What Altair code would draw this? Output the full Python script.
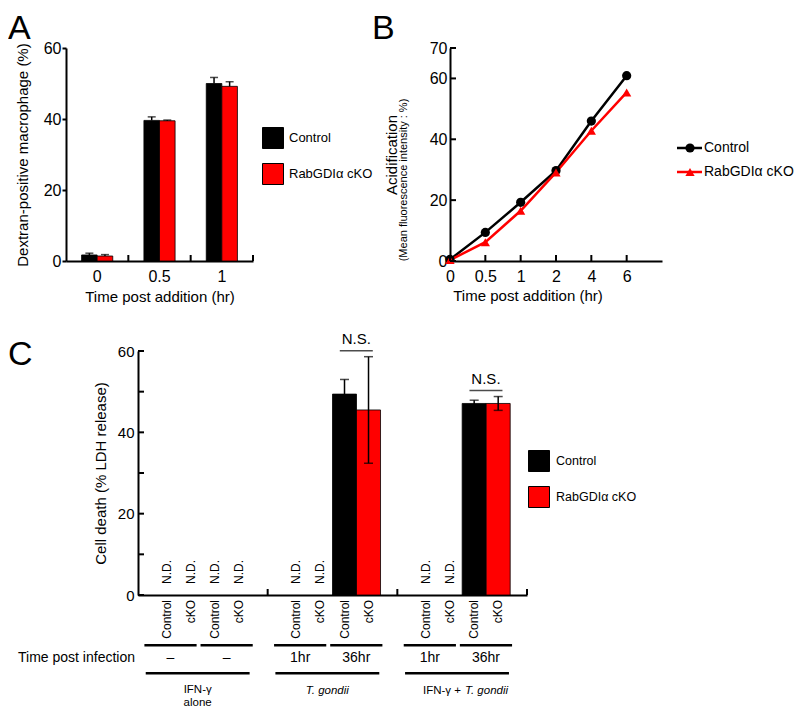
import altair as alt
import pandas as pd

FONT = "Liberation Sans"

# ---------------- shared categories ----------------
series = ["Control", "RabGDIα cKO"]
short_names = ["Control", "cKO"]
colors = ["#000000", "#ff0000"]
shapes = ["circle", "triangle-up"]

# ---------------- panel A ----------------
a_times = ["0", "0.5", "1"]
a_ctrl = [1.7, 39.6, 50.0]
a_ctrl_err = [0.5, 1.0, 1.7]
a_cko = [1.4, 39.5, 49.2]
a_cko_err = [0.4, 0.2, 1.3]
a_yticks = [0, 20, 40, 60]

# ---------------- panel B ----------------
b_times = ["0", "0.5", "1", "2", "4", "6"]
b_ctrl = [0.5, 9.4, 19.3, 29.7, 46.0, 60.9]
b_cko = [0.3, 6.2, 16.5, 29.1, 42.8, 55.4]
b_yticks = [0, 20, 40, 60, 70]

# ---------------- panel C ----------------
c_groups = ["IFN-γ alone", "T. gondii", "IFN-γ + T. gondii"]
c_group_plain = ["IFN-γ\nalone", "", "IFN-γ +"]
c_group_italic = ["", "T. gondii", "T. gondii"]
c_pairs = ["first", "second"]
c_times = ["–", "–", "1hr", "36hr", "1hr", "36hr"]
c_ctrl = [None, None, None, 49.4, None, 47.1]
c_ctrl_err = [None, None, None, 3.6, None, 0.8]
c_cko = [None, None, None, 45.5, None, 47.1]
c_cko_err = [None, None, None, 13.1, None, 1.7]
c_sig = ["", "", "", "N.S.", "", "N.S."]
c_yticks = [0, 10, 20, 30, 40, 50, 60]
c_ylabels = [0, 20, 40, 60]

one = pd.DataFrame({"k": [0]})


def txt(s, **kw):
    props = dict(font=FONT, color="black")
    props.update(kw)
    return alt.Chart(one).mark_text(text=s, **props)


axis_common = dict(domainColor="black", domainWidth=2, labelColor="black", titleColor="black",
                   labelFont=FONT, titleFont=FONT, grid=False, titleFontWeight="normal",
                   tickColor="black")

# ================= Panel A =================
AW, AH = 187, 213
rowsA = []
for i, t in enumerate(a_times):
    for g, (vals, errs) in enumerate([(a_ctrl, a_ctrl_err), (a_cko, a_cko_err)]):
        rowsA.append({"t": t, "geno": series[g], "mean": vals[i], "hi": vals[i] + errs[i]})
dfA = pd.DataFrame(rowsA)

a_xscale = alt.Scale(type="band", domain=a_times, paddingInner=0, paddingOuter=0)
a_xaxis = alt.Axis(title="Time post addition (hr)", labelAngle=0, ticks=False, labelFontSize=16,
                   labelPadding=7, titleFontSize=15, titlePadding=5, **axis_common)
a_x = alt.X("t:N", sort=a_times, scale=a_xscale, axis=a_xaxis)
a_xo = alt.XOffset("geno:N", sort=series,
                   scale=alt.Scale(type="band", domain=series, paddingInner=0, paddingOuter=1))
a_yscale = alt.Scale(domain=[0, 60], nice=False)
a_yaxis = alt.Axis(values=a_yticks, title="Dextran-positive macrophage (%)", tickSize=4, tickWidth=2,
                   labelFontSize=16, labelPadding=1, titleFontSize=15, titlePadding=13, **axis_common)

a_bars = alt.Chart(dfA).mark_bar(stroke="black", strokeWidth=0.8).encode(
    x=a_x, xOffset=a_xo,
    y=alt.Y("mean:Q", scale=a_yscale, axis=a_yaxis),
    fill=alt.Fill("geno:N", scale=alt.Scale(domain=series, range=colors),
                  legend=alt.Legend(title=None, orient="none", legendX=196, legendY=79, padding=0,
                                    symbolType="square", symbolSize=441, symbolStrokeColor="black",
                                    symbolStrokeWidth=1, symbolOpacity=1, labelFontSize=13,
                                    labelFont=FONT, labelColor="black", rowPadding=10, labelOffset=5)),
)
a_err = alt.Chart(dfA).mark_rule(color="black", strokeWidth=1.5).encode(
    x=a_x, xOffset=a_xo, y=alt.Y("mean:Q", scale=a_yscale, axis=a_yaxis), y2="hi:Q")
a_cap = alt.Chart(dfA).mark_tick(color="black", thickness=1.5, size=8, orient="horizontal").encode(
    x=a_x, xOffset=a_xo, y=alt.Y("hi:Q", scale=a_yscale, axis=a_yaxis))
dfAt = pd.DataFrame({"t": a_times})
a_xt = alt.Chart(dfAt).mark_rule(color="black", strokeWidth=2).encode(
    x=alt.X("t:N", sort=a_times, scale=a_xscale, axis=a_xaxis, bandPosition=1),
    y=alt.value(AH), y2=alt.value(AH - 6))
a_letter = txt("A", fontSize=34, align="left", baseline="top").encode(x=alt.value(-58), y=alt.value(-36))

panelA = alt.layer(a_bars, a_err, a_cap, a_xt, a_letter).properties(width=AW, height=AH)

# ================= Panel B =================
BW, BH = 212, 213
rowsB = []
for g, vals in enumerate([b_ctrl, b_cko]):
    for i, t in enumerate(b_times):
        rowsB.append({"idx": i, "t": t, "val": vals[i], "geno": series[g]})
dfB = pd.DataFrame(rowsB)

b_labels = "[" + ",".join("'%s'" % t for t in b_times) + "][datum.value]"
b_xscale = alt.Scale(domain=[0, len(b_times)], nice=False, zero=True)
b_xaxis = alt.Axis(values=list(range(len(b_times))), labelExpr=b_labels, ticks=False, title=None,
                   labelFontSize=16, labelPadding=7, labelFlush=False, labelOverlap=False, **axis_common)
b_x = alt.X("idx:Q", scale=b_xscale, axis=b_xaxis)
b_yscale = alt.Scale(domain=[0, 70], nice=False)
b_yaxis = alt.Axis(values=b_yticks, ticks=False, title=None, labelFontSize=16, labelPadding=3,
                   **axis_common)
b_y = alt.Y("val:Q", scale=b_yscale, axis=b_yaxis)
b_color = alt.Color("geno:N", scale=alt.Scale(domain=series, range=colors), legend=None)
b_shape = alt.Shape("geno:N", scale=alt.Scale(domain=series, range=shapes), legend=None)

b_lines = alt.Chart(dfB).mark_line(strokeWidth=2.5).encode(x=b_x, y=b_y, color=b_color)
b_pts = alt.Chart(dfB).mark_point(filled=True, size=85, opacity=1).encode(
    x=b_x, y=b_y, color=b_color, shape=b_shape)
dfBy = pd.DataFrame({"v": b_yticks})
b_yt = alt.Chart(dfBy).mark_rule(color="black", strokeWidth=2).encode(
    x=alt.value(0), x2=alt.value(6), y=alt.Y("v:Q", scale=b_yscale, axis=b_yaxis))
dfBx = pd.DataFrame({"idx": list(range(len(b_times)))})
b_xt = alt.Chart(dfBx).mark_rule(color="black", strokeWidth=2).encode(
    x=b_x, y=alt.value(BH), y2=alt.value(BH - 6))

b_texts = [
    txt("B", fontSize=34, align="left", baseline="top").encode(x=alt.value(-78), y=alt.value(-36)),
    txt("Acidification", fontSize=15, angle=270, align="center", baseline="middle").encode(
        x=alt.value(-58), y=alt.value(107)),
    txt("(Mean fluorescence intensity : %)", fontSize=11, angle=270, align="center",
        baseline="middle").encode(x=alt.value(-46), y=alt.value(132)),
    txt("Time post addition (hr)", fontSize=15, align="center", baseline="middle").encode(
        x=alt.value(78), y=alt.value(BH + 35)),
]
b_leg = []
for i, name in enumerate(series):
    yy = 100 + 24 * i
    b_leg.append(alt.Chart(one).mark_rule(color=colors[i], strokeWidth=2.5).encode(
        x=alt.value(227), x2=alt.value(252), y=alt.value(yy)))
    b_leg.append(alt.Chart(one).mark_point(filled=True, size=85, opacity=1, color=colors[i],
                                           shape=shapes[i]).encode(x=alt.value(240), y=alt.value(yy)))
    b_leg.append(txt(name, fontSize=14, align="left", baseline="middle").encode(
        x=alt.value(254), y=alt.value(yy)))

panelB = alt.layer(b_lines, b_pts, b_yt, b_xt, *b_texts, *b_leg).properties(width=BW, height=BH)

# ================= Panel C =================
CW, CH = 389, 244
slots = ["%s|%s" % (p, s) for p in c_pairs for s in short_names]
rowsC, rowsP = [], []
for k, t in enumerate(c_times):
    grp = c_groups[k // 2]
    pair = c_pairs[k % 2]
    tops = []
    for g, (vals, errs) in enumerate([(c_ctrl, c_ctrl_err), (c_cko, c_cko_err)]):
        v, e = vals[k], errs[k]
        lo = v - e if v is not None else None
        hi = v + e if v is not None else None
        if hi is not None:
            tops.append(hi)
        rowsC.append({"group": grp, "pair": pair, "slot": "%s|%s" % (pair, short_names[g]),
                      "geno": series[g], "short": short_names[g], "mean": v, "lo": lo, "hi": hi})
    rowsP.append({"group": grp, "pair": pair, "time": t, "sig": c_sig[k],
                  "top": max(tops) if tops else None})
dfC = pd.DataFrame(rowsC)
dfP = pd.DataFrame(rowsP)
dfG = pd.DataFrame({"group": c_groups, "plain": c_group_plain, "italic": c_group_italic,
                    "whole": ["all"] * len(c_groups)})
dfCy = pd.DataFrame({"v": c_yticks})

c_xscale = alt.Scale(type="band", domain=c_groups, paddingInner=0, paddingOuter=0)
c_xaxis = alt.Axis(labels=False, ticks=False, title=None, **axis_common)
c_x = alt.X("group:N", sort=c_groups, scale=c_xscale, axis=c_xaxis)
c_slot = alt.XOffset("slot:N", sort=slots,
                     scale=alt.Scale(type="band", domain=slots, paddingInner=0, paddingOuter=0.7))
c_pair = alt.XOffset("pair:N", sort=c_pairs,
                     scale=alt.Scale(type="band", domain=c_pairs, paddingInner=0.07,
                                     paddingOuter=0.19, align=0.3))
c_whole = alt.XOffset("whole:N",
                      scale=alt.Scale(type="band", domain=["all"], paddingInner=0,
                                      paddingOuter=0.124, align=0.3))
c_yscale = alt.Scale(domain=[0, 60], nice=False)
c_label_expr = "indexof([" + ",".join(str(v) for v in c_ylabels) + "], datum.value) >= 0 ? datum.label : ''"
c_yaxis = alt.Axis(values=c_yticks, labelExpr=c_label_expr, ticks=False,
                   title="Cell death (% LDH release)", labelFontSize=15, labelPadding=4,
                   titleFontSize=15, titlePadding=9, **axis_common)

c_bars = alt.Chart(dfC).transform_filter("datum.mean != null").mark_bar(
    stroke="black", strokeWidth=0.8).encode(
    x=c_x, xOffset=c_slot,
    y=alt.Y("mean:Q", scale=c_yscale, axis=c_yaxis),
    fill=alt.Fill("geno:N", scale=alt.Scale(domain=series, range=colors),
                  legend=alt.Legend(title=None, orient="none", legendX=390, legendY=99, padding=0,
                                    symbolType="square", symbolSize=441, symbolStrokeColor="black",
                                    symbolStrokeWidth=1, symbolOpacity=1, labelFontSize=12.5,
                                    labelFont=FONT, labelColor="black", rowPadding=10, labelOffset=6)),
)
c_err = alt.Chart(dfC).transform_filter("datum.mean != null").mark_rule(
    color="black", strokeWidth=1.5).encode(
    x=c_x, xOffset=c_slot, y=alt.Y("lo:Q", scale=c_yscale, axis=c_yaxis), y2="hi:Q")
c_cap_hi = alt.Chart(dfC).transform_filter("datum.mean != null").mark_tick(
    color="black", thickness=1.5, size=9, orient="horizontal").encode(
    x=c_x, xOffset=c_slot, y=alt.Y("hi:Q", scale=c_yscale, axis=c_yaxis))
c_cap_lo = alt.Chart(dfC).transform_filter("datum.mean != null").mark_tick(
    color="black", thickness=1.5, size=9, orient="horizontal").encode(
    x=c_x, xOffset=c_slot, y=alt.Y("lo:Q", scale=c_yscale, axis=c_yaxis))
c_nd = alt.Chart(dfC).transform_filter("datum.mean == null").mark_text(
    text="N.D.", font=FONT, fontSize=12, color="black", angle=270, align="left",
    baseline="middle", dx=11).encode(x=c_x, xOffset=c_slot, y=alt.value(CH))
c_slot_lab = alt.Chart(dfC).mark_text(
    font=FONT, fontSize=12, color="black", angle=270, align="right", baseline="middle").encode(
    x=c_x, xOffset=c_slot, y=alt.value(CH + 5), text="short:N")

c_pair_line = alt.Chart(dfP).mark_bar(color="black").encode(
    x=c_x, xOffset=c_pair, y=alt.value(CH + 49), y2=alt.value(CH + 51.5))
c_pair_lab = alt.Chart(dfP).mark_text(font=FONT, fontSize=14, color="black", baseline="middle").encode(
    x=c_x, xOffset=c_pair, y=alt.value(CH + 63), text="time:N")
c_ns_line = alt.Chart(dfP).transform_filter("datum.sig != ''").mark_tick(
    color="black", thickness=1.5, size=33, orient="horizontal", yOffset=-6).encode(
    x=c_x, xOffset=c_pair, y=alt.Y("top:Q", scale=c_yscale, axis=c_yaxis))
c_ns_text = alt.Chart(dfP).transform_filter("datum.sig != ''").mark_text(
    font=FONT, fontSize=15, color="black", baseline="middle", dy=-18).encode(
    x=c_x, xOffset=c_pair, y=alt.Y("top:Q", scale=c_yscale, axis=c_yaxis), text="sig:N")

c_grp_line = alt.Chart(dfG).mark_bar(color="black").encode(
    x=c_x, xOffset=c_whole, y=alt.value(CH + 77), y2=alt.value(CH + 79.5))
c_grp_plain = alt.Chart(dfG).transform_filter("datum.italic == ''").mark_text(
    font=FONT, fontSize=11.5, color="black", baseline="middle", lineBreak="\n", lineHeight=13).encode(
    x=c_x, xOffset=c_whole, y=alt.value(CH + 95), text="plain:N")
c_grp_ital = alt.Chart(dfG).transform_filter("datum.plain == ''").mark_text(
    font=FONT, fontSize=11.5, fontStyle="italic", color="black", baseline="middle").encode(
    x=c_x, xOffset=c_whole, y=alt.value(CH + 96), text="italic:N")
c_grp_mix1 = alt.Chart(dfG).transform_filter("datum.plain != '' && datum.italic != ''").mark_text(
    font=FONT, fontSize=11.5, color="black", baseline="middle", align="right", dx=4).encode(
    x=c_x, xOffset=c_whole, y=alt.value(CH + 96), text="plain:N")
c_grp_mix2 = alt.Chart(dfG).transform_filter("datum.plain != '' && datum.italic != ''").mark_text(
    font=FONT, fontSize=11.5, fontStyle="italic", color="black", baseline="middle", align="left",
    dx=8).encode(x=c_x, xOffset=c_whole, y=alt.value(CH + 96), text="italic:N")

c_xt = alt.Chart(dfG).mark_rule(color="black", strokeWidth=2).encode(
    x=alt.X("group:N", sort=c_groups, scale=c_xscale, axis=c_xaxis, bandPosition=1),
    y=alt.value(CH), y2=alt.value(CH - 6))
c_yt = alt.Chart(dfCy).mark_rule(color="black", strokeWidth=2).encode(
    x=alt.value(0), x2=alt.value(6), y=alt.Y("v:Q", scale=c_yscale, axis=c_yaxis))

c_texts = [
    txt("C", fontSize=34, align="left", baseline="top").encode(x=alt.value(-130), y=alt.value(-13)),
    txt("Time post infection", fontSize=14, align="right", baseline="middle").encode(
        x=alt.value(-3), y=alt.value(CH + 63)),
]

panelC = alt.layer(
    c_bars, c_err, c_cap_hi, c_cap_lo, c_nd, c_slot_lab,
    c_pair_line, c_pair_lab, c_ns_line, c_ns_text,
    c_grp_line, c_grp_plain, c_grp_ital, c_grp_mix1, c_grp_mix2,
    c_xt, c_yt, *c_texts
).resolve_scale(xOffset="independent").properties(width=CW, height=CH)

spacer = alt.Chart(one).mark_text(text="").encode(x=alt.value(0), y=alt.value(0)).properties(
    width=52, height=10)

# ================= Assemble =================
res = dict(fill="independent", color="independent", shape="independent", xOffset="independent")
top = alt.hconcat(panelA, panelB, spacing=197, bounds="flush").resolve_scale(**res)
bottom = alt.hconcat(spacer, panelC, spacing=20, bounds="flush").resolve_scale(**res)
chart = alt.vconcat(top, bottom, spacing=27).resolve_scale(**res).properties(
    padding={"left": 0, "top": 4, "right": 0, "bottom": 0}
).configure(font=FONT).configure_view(stroke=None)

chart.save("out.html", embed_options={"renderer": "svg", "actions": False})
